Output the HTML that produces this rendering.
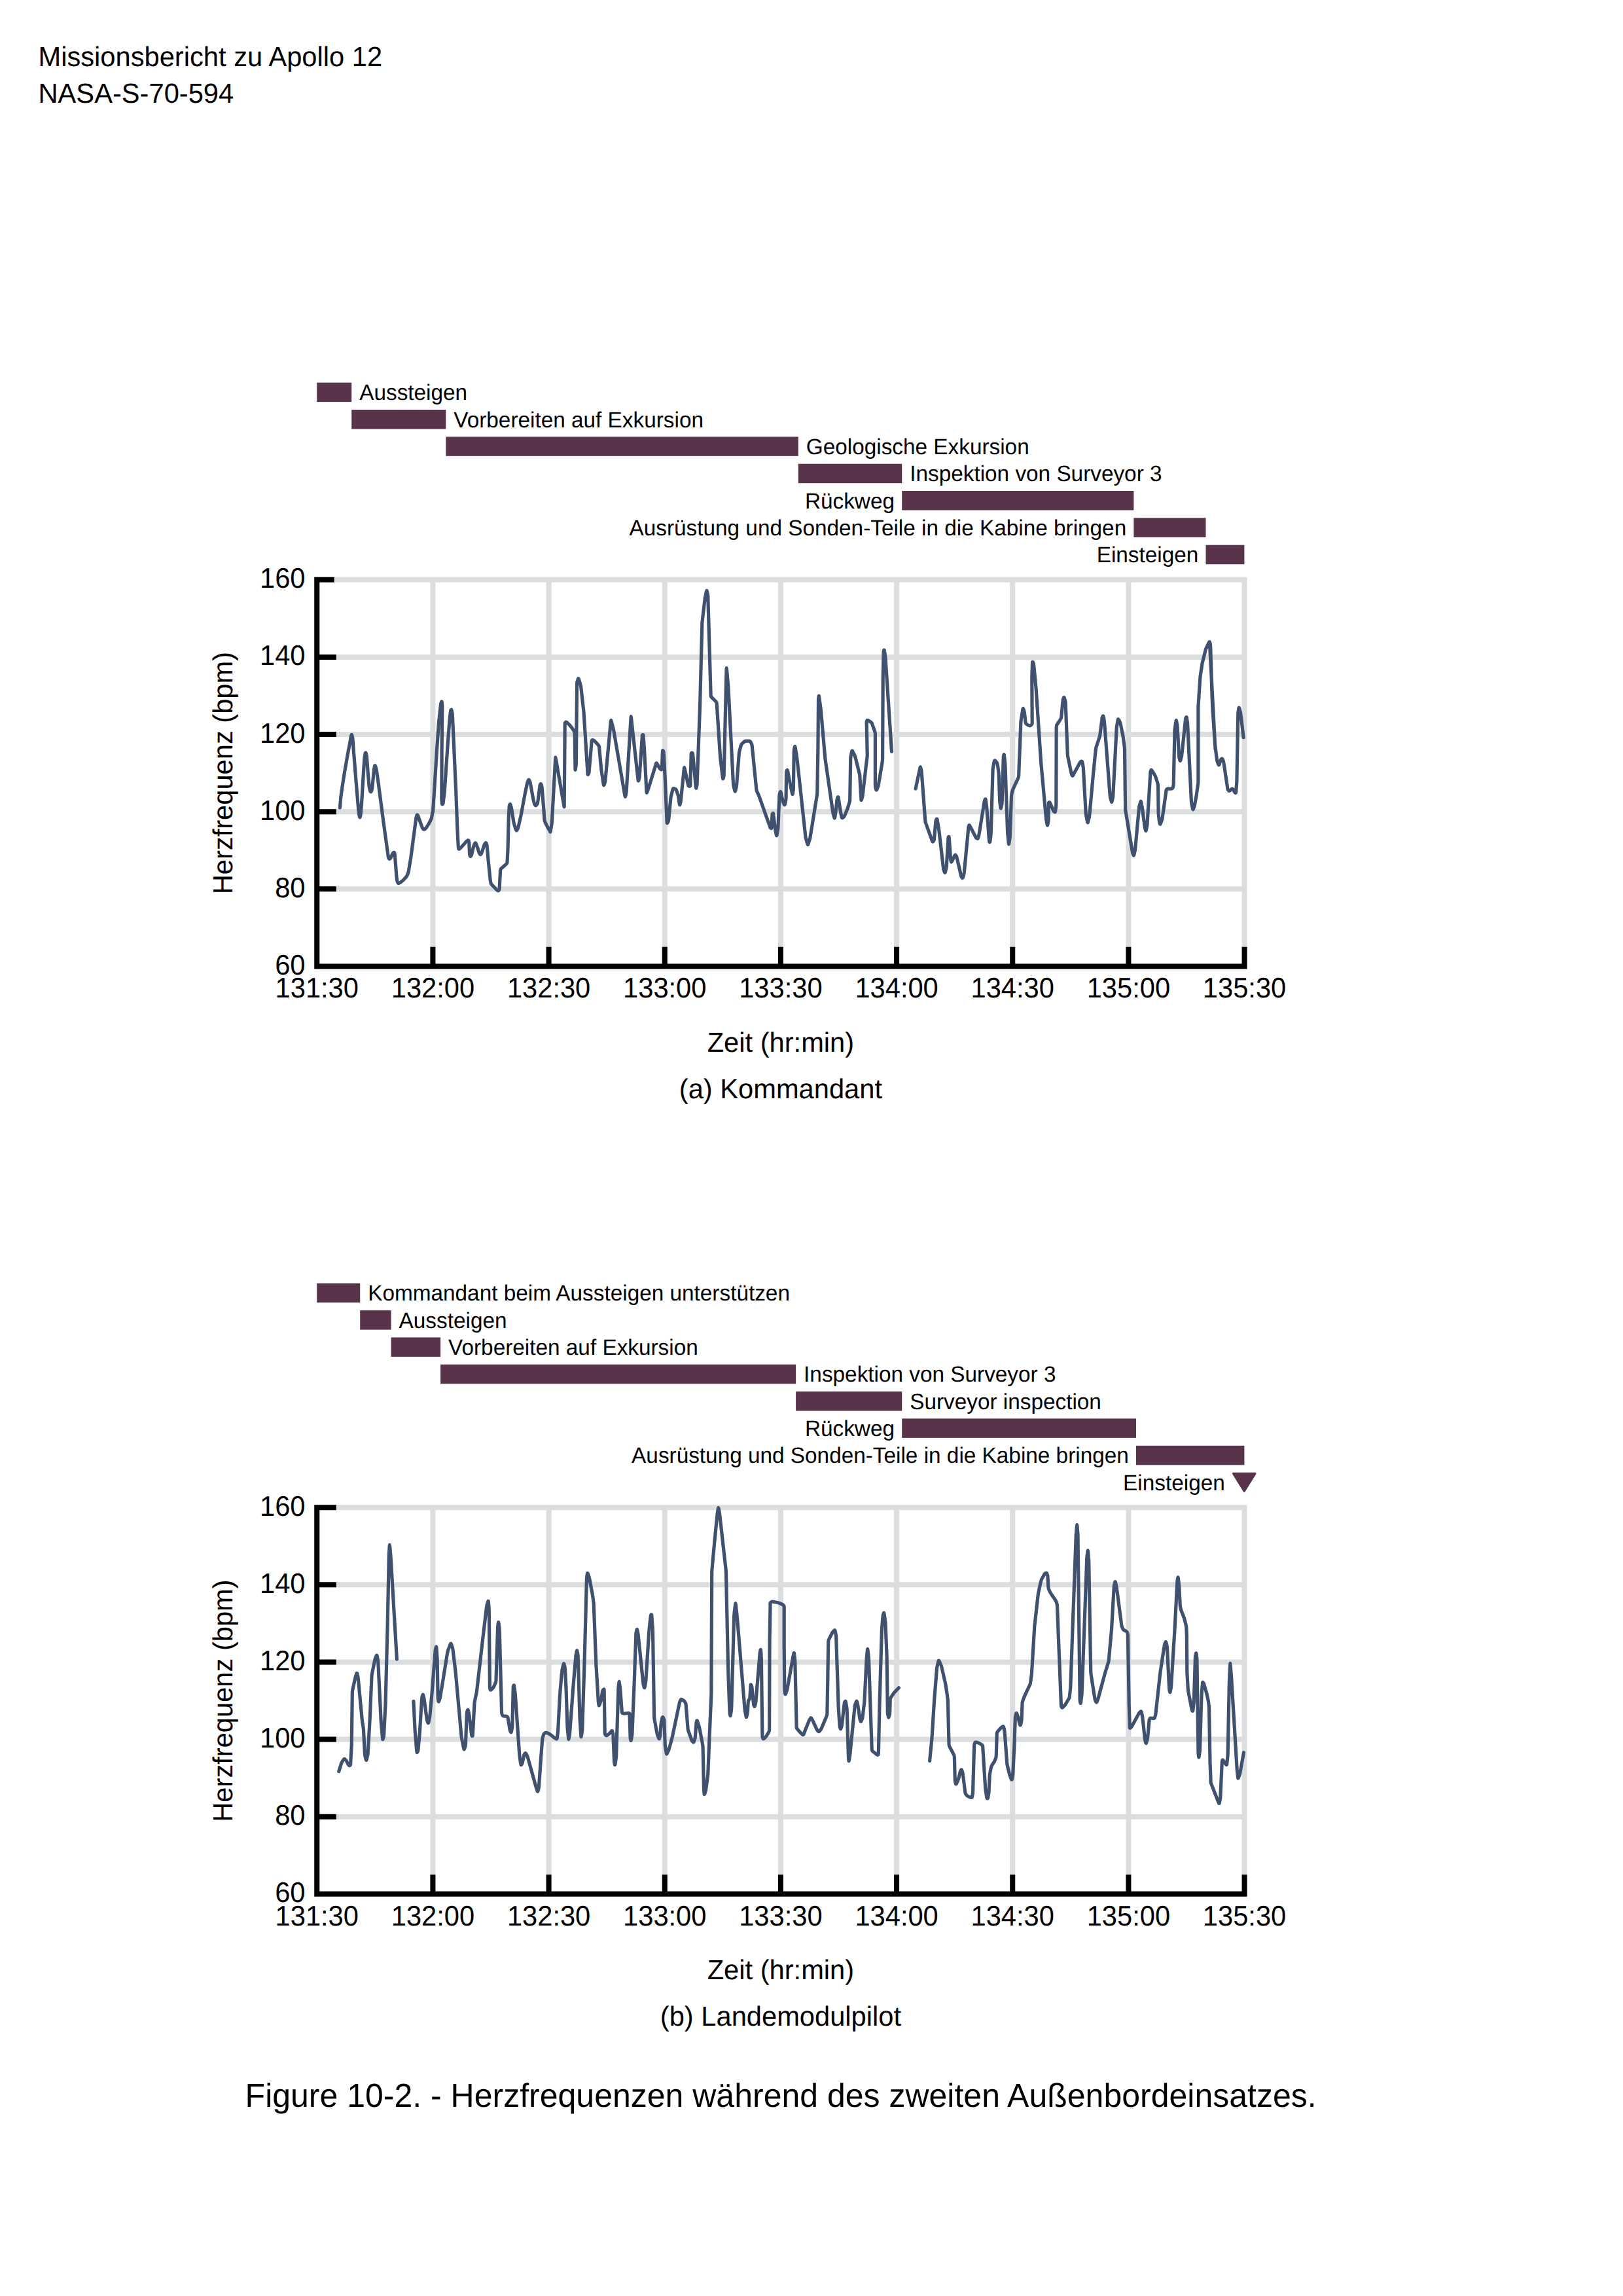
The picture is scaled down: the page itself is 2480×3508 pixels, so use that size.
<!DOCTYPE html>
<html lang="de"><head><meta charset="utf-8"><title>Missionsbericht zu Apollo 12</title>
<style>html,body{margin:0;padding:0;background:#fff}svg{display:block}text{font-family:"Liberation Sans",Arial,sans-serif;fill:#000;text-rendering:geometricPrecision}.t10{font-size:41.67px}.t8{font-size:33.33px}.t12{font-size:50px}</style></head><body>
<svg width="2480" height="3508" viewBox="0 0 2480 3508">
<rect width="2480" height="3508" fill="#fff"/>
<text class="t10" transform="translate(58.50,101.00) scale(1,1.015)">Missionsbericht zu Apollo 12</text>
<text class="t10" transform="translate(58.50,156.70) scale(1,1.015)">NASA-S-70-594</text>
<g>
<path d="M484.25,885.83H1901.57M484.25,1003.94H1901.57M484.25,1122.05H1901.57M484.25,1240.16H1901.57M484.25,1358.27H1901.57M484.25,1476.38H1901.57M484.25,885.83V1476.38M661.42,885.83V1476.38M838.58,885.83V1476.38M1015.75,885.83V1476.38M1192.91,885.83V1476.38M1370.08,885.83V1476.38M1547.24,885.83V1476.38M1724.41,885.83V1476.38M1901.57,885.83V1476.38" stroke="#dcddde" stroke-width="8.0" stroke-linecap="square" fill="none"/>
<path d="M519.4,1234.1L520.3,1223.4Q520.5,1219.9 521.0,1216.5L522.5,1205.8Q522.9,1202.3 523.5,1198.9L525.9,1183.4Q526.4,1180.0 527.1,1176.5L530.0,1159.9Q530.6,1156.4 531.2,1153.0L534.6,1135.2Q535.3,1131.8 535.8,1128.3L535.9,1127.6Q536.4,1123.5 537.0,1123.2L537.0,1123.2Q537.6,1121.5 538.2,1124.7L538.2,1124.7Q538.9,1126.8 539.1,1130.5L540.5,1149.4Q540.8,1152.9 541.1,1156.4L543.8,1190.6Q544.1,1194.1 544.4,1197.6L547.3,1231.7Q547.6,1235.2 548.0,1238.7L548.4,1242.3Q548.8,1246.2 549.4,1247.6L549.4,1247.6Q550.0,1250.4 550.6,1247.0L550.6,1247.0Q551.2,1244.9 551.4,1241.2L552.3,1230.5Q552.6,1227.0 552.8,1223.5L555.1,1185.8Q555.3,1182.3 555.5,1178.8L556.8,1159.9Q557.0,1156.3 557.6,1153.5L557.6,1153.5Q558.2,1149.9 558.7,1150.3L558.7,1150.3Q559.1,1149.2 559.7,1152.6L559.7,1152.6Q560.4,1155.1 560.6,1158.8L562.1,1178.8Q562.3,1182.3 562.7,1185.8L564.0,1200.0Q564.2,1203.6 565.1,1206.4L565.1,1206.4Q565.9,1210.0 566.4,1209.7L566.4,1209.7Q567.0,1210.5 567.8,1207.9L567.8,1207.9Q568.7,1206.2 568.9,1202.4L569.6,1195.2Q570.0,1191.7 570.3,1188.2L571.1,1178.7Q571.3,1175.1 572.0,1172.6L572.0,1172.6Q572.6,1169.3 573.0,1169.9L573.0,1169.9Q573.4,1168.9 574.4,1173.1L574.4,1173.1Q575.4,1176.4 575.8,1179.9L578.3,1197.7Q578.8,1201.1 579.2,1204.6L584.8,1247.1Q585.3,1250.5 585.7,1254.0L593.0,1307.0Q593.4,1311.1 594.2,1311.6L594.2,1311.6Q594.9,1313.0 595.7,1312.1L595.7,1312.1Q596.3,1312.4 597.9,1308.5L597.9,1308.4Q599.5,1304.7 600.3,1303.9L600.3,1303.9Q601.2,1302.1 601.9,1302.6L601.9,1302.6Q602.8,1302.2 603.1,1304.9L603.1,1304.9Q603.5,1306.6 603.7,1310.5L605.6,1335.2Q605.8,1338.7 606.3,1342.2L606.5,1343.5Q606.9,1347.5 607.8,1348.2L607.8,1348.2Q608.5,1349.9 609.5,1349.4L609.5,1349.4Q610.1,1349.8 613.2,1347.2L613.2,1347.2Q615.9,1345.3 618.2,1342.6L619.4,1341.3Q622.0,1338.8 622.9,1335.8L622.9,1335.8Q624.2,1333.0 624.6,1329.4L627.0,1315.1Q627.6,1311.7 628.1,1308.2L631.8,1279.9Q632.3,1276.4 632.8,1272.9L635.4,1252.8Q635.8,1249.0 636.4,1247.3L636.4,1247.3Q637.0,1244.7 637.6,1245.2L637.6,1245.2Q638.2,1244.9 638.8,1246.7L638.8,1246.7Q639.2,1247.7 640.5,1251.5L644.1,1261.3Q645.3,1265.2 646.1,1265.8L646.1,1265.8Q647.0,1267.3 647.9,1267.1L647.9,1267.1Q648.7,1267.5 649.9,1266.2L649.9,1266.2Q651.0,1265.7 652.9,1262.2L654.0,1260.6Q655.9,1257.6 657.4,1254.4L658.0,1253.1Q659.9,1250.0 660.0,1246.5L660.3,1244.6Q660.8,1240.2 661.1,1241.1L661.1,1241.1Q661.5,1242.0 661.7,1237.7L663.4,1211.6Q663.6,1208.1 663.8,1204.6L667.0,1154.1Q667.2,1150.6 667.4,1147.1L670.5,1103.8Q670.7,1100.3 671.2,1096.8L673.3,1077.9Q673.6,1074.0 674.4,1072.9L674.4,1072.9Q675.2,1070.0 675.4,1074.8L675.5,1075.3Q675.9,1078.7 675.8,1082.2L675.1,1147.1Q675.1,1150.6 675.1,1154.1L674.8,1219.0Q674.7,1222.5 675.2,1225.7L675.2,1225.7Q675.4,1229.8 676.2,1228.6L676.2,1228.6Q677.0,1229.0 677.4,1224.7L679.0,1211.6Q679.5,1208.1 679.6,1204.6L683.5,1146.9Q683.7,1143.4 684.0,1139.9L687.0,1099.5Q687.3,1096.0 687.8,1092.5L688.3,1088.7Q688.7,1084.5 689.2,1084.6L689.2,1084.6Q689.7,1083.1 690.5,1087.2L690.5,1087.2Q691.3,1090.1 691.4,1093.7L693.6,1139.9Q693.8,1143.4 693.9,1146.9L696.5,1204.6Q696.7,1208.1 696.8,1211.6L698.7,1262.1Q698.8,1265.6 699.0,1269.1L700.1,1290.8Q700.2,1294.8 700.6,1295.9L700.6,1295.9Q700.8,1298.0 702.0,1297.0L702.0,1297.0Q702.8,1297.0 705.4,1293.9L710.9,1287.6Q713.4,1284.5 714.5,1284.3L714.5,1284.3Q716.0,1282.9 716.3,1285.4L716.3,1285.4Q716.9,1286.7 716.9,1290.6L717.4,1302.3Q717.4,1306.4 718.1,1307.3L718.1,1307.3Q718.6,1309.2 719.5,1308.0L719.5,1308.0Q720.4,1307.9 721.1,1303.9L722.5,1297.8Q723.2,1294.2 724.3,1291.5L724.3,1291.5Q725.5,1288.0 726.1,1288.2L726.1,1288.2Q726.7,1287.2 727.9,1290.4L727.9,1290.4Q729.0,1292.7 730.0,1296.2L731.5,1301.1Q732.6,1305.1 733.5,1305.1L733.5,1305.1Q734.5,1306.4 735.3,1304.4L735.3,1304.4Q736.1,1303.4 737.2,1299.6L739.4,1292.6Q740.5,1288.7 741.6,1288.4L741.6,1288.4Q742.7,1286.7 743.4,1289.5L743.4,1289.5Q744.2,1291.1 744.4,1294.9L745.9,1312.4Q746.2,1315.9 746.6,1319.4L748.8,1341.2Q749.1,1344.8 749.7,1347.5L749.7,1347.5Q749.8,1350.5 752.7,1352.9L756.8,1357.2Q759.5,1360.2 760.3,1360.5L760.3,1360.5Q761.4,1361.6 762.3,1360.1L762.3,1360.1Q763.4,1359.6 763.3,1355.5L763.6,1348.1Q763.8,1344.6 764.0,1341.1L764.5,1331.6Q764.0,1327.8 767.3,1325.8L770.9,1322.5Q774.0,1319.8 774.3,1319.5L774.3,1319.5Q775.1,1319.5 775.1,1315.3L776.0,1297.8Q776.2,1294.3 776.2,1290.8L777.1,1254.7Q777.1,1251.2 777.3,1247.7L778.0,1234.6Q778.0,1230.6 778.9,1229.7L778.9,1229.7Q779.5,1227.1 780.5,1231.1L780.5,1231.1Q781.5,1233.8 782.0,1237.4L784.5,1253.5Q784.9,1257.0 786.0,1260.3L787.0,1263.7Q788.0,1267.6 788.6,1268.1L788.6,1268.1Q789.3,1269.9 790.4,1267.4L790.4,1267.4Q791.6,1266.0 792.3,1262.2L795.0,1250.3Q795.9,1246.9 796.5,1243.5L801.6,1215.9Q802.3,1212.4 803.0,1209.0L805.2,1198.6Q805.8,1194.8 807.0,1193.0L807.0,1193.0Q808.0,1189.8 809.1,1193.0L809.1,1193.0Q810.3,1194.8 810.8,1198.6L813.9,1216.2Q814.5,1219.6 815.3,1223.0L815.9,1225.5Q816.6,1229.5 817.7,1230.0L817.7,1230.0Q818.8,1231.7 820.0,1229.7L820.0,1229.7Q821.4,1228.7 821.8,1224.8L822.6,1218.8Q823.2,1215.3 823.5,1211.8L824.6,1203.0Q824.9,1198.9 825.7,1198.4L825.7,1198.4Q826.4,1196.4 827.3,1199.8L827.3,1199.8Q828.3,1202.1 828.4,1205.8L830.0,1226.2Q830.3,1229.7 830.6,1233.2L831.8,1250.6Q831.7,1254.2 833.5,1257.3L834.6,1259.5Q836.0,1262.8 837.9,1265.7L838.1,1266.2Q840.3,1269.6 840.5,1270.3L840.5,1270.3Q841.1,1272.7 841.6,1268.0L842.8,1260.5Q843.4,1257.1 843.5,1253.6L848.6,1159.6Q848.7,1154.4 849.4,1159.6L854.9,1191.5Q855.5,1195.0 856.1,1198.4L861.6,1230.3Q862.3,1235.5 862.2,1230.3L863.2,1107.5Q863.0,1103.3 864.4,1103.5L864.4,1103.5Q865.1,1102.2 867.9,1105.4L869.7,1107.1Q872.3,1109.5 874.1,1112.5L876.2,1115.5Q878.6,1118.3 878.2,1121.9L878.9,1173.7Q878.9,1179.0 879.5,1173.8L879.8,1171.8Q880.5,1168.4 880.4,1164.9L881.6,1045.4Q881.4,1041.8 882.8,1038.9L882.8,1038.9Q883.9,1034.3 884.9,1039.3L886.7,1045.2Q887.8,1048.5 888.0,1052.1L891.7,1085.0Q892.1,1088.5 892.3,1092.0L897.9,1180.4Q897.9,1185.0 899.0,1182.8L899.0,1182.8Q900.0,1182.3 900.2,1178.2L904.0,1134.1Q903.9,1129.7 906.0,1130.9L906.0,1130.9Q907.4,1130.5 910.0,1133.7L913.0,1136.9Q915.9,1139.3 915.7,1143.0L918.4,1171.5Q918.7,1175.0 919.2,1178.5L922.0,1197.1Q922.3,1202.1 923.6,1197.7L923.6,1197.7Q924.9,1195.2 925.0,1191.5L933.2,1103.1Q933.4,1097.9 934.4,1103.0L936.7,1111.7Q937.6,1115.1 938.2,1118.6L954.7,1214.8Q955.3,1220.0 956.1,1214.9L956.3,1213.9Q957.2,1210.5 957.3,1207.0L964.0,1097.1Q964.1,1091.9 964.6,1097.1L967.1,1120.5Q967.5,1124.0 967.9,1127.5L974.9,1190.4Q975.1,1195.4 976.2,1191.1L976.2,1191.1Q977.2,1188.5 977.3,1184.8L981.2,1126.4Q981.3,1122.0 982.3,1122.9L982.3,1122.9Q983.2,1122.0 983.3,1126.4L984.4,1142.7Q984.6,1146.2 984.8,1149.7L987.9,1208.6Q987.9,1213.7 989.2,1209.1L989.2,1209.1Q990.4,1206.2 991.4,1202.7L1002.0,1168.4Q1002.8,1163.4 1004.7,1168.1L1006.8,1171.9Q1008.6,1175.6 1009.9,1175.6L1009.9,1175.6Q1011.5,1177.1 1011.4,1172.6L1012.4,1149.7Q1012.4,1145.0 1013.3,1147.3L1013.3,1147.3Q1014.2,1147.8 1014.3,1151.9L1016.1,1187.0Q1016.3,1190.5 1016.5,1194.0L1019.0,1254.7Q1018.9,1259.5 1020.3,1256.5L1020.3,1256.5Q1021.6,1255.3 1021.8,1251.4L1024.8,1220.6Q1025.0,1217.1 1026.1,1213.8L1027.6,1207.7Q1028.2,1203.2 1030.7,1205.2L1030.7,1205.2Q1033.2,1205.5 1034.2,1209.3L1035.0,1211.7Q1036.4,1214.9 1036.8,1218.4L1038.0,1227.0Q1038.4,1231.9 1039.3,1228.2L1039.3,1228.2Q1040.1,1226.3 1040.4,1222.5L1045.2,1175.2Q1045.5,1170.0 1046.3,1175.1L1051.1,1197.1Q1051.6,1201.2 1053.2,1201.1L1053.2,1201.1Q1055.0,1202.6 1054.8,1198.1L1056.1,1154.1Q1056.0,1149.7 1057.3,1150.6L1057.3,1150.6Q1058.6,1149.7 1058.8,1154.1L1063.2,1201.5Q1063.4,1206.5 1064.3,1202.2L1064.3,1202.2Q1065.3,1199.6 1065.2,1195.9L1069.4,1083.1Q1069.5,1079.6 1069.6,1076.1L1072.8,954.5Q1072.8,951.0 1073.3,947.5L1076.9,916.7Q1077.2,913.3 1078.1,909.9L1079.2,904.9Q1080.0,899.8 1080.8,904.9L1080.9,905.4Q1081.9,908.8 1081.8,912.3L1086.1,1060.6Q1085.6,1064.4 1088.6,1066.6L1092.6,1070.5Q1095.6,1072.7 1095.3,1076.5L1100.4,1153.8Q1100.5,1157.3 1101.0,1160.7L1104.2,1187.1Q1104.5,1192.0 1105.4,1188.3L1105.4,1188.3Q1106.3,1186.4 1106.2,1182.6L1110.0,1023.2Q1110.1,1018.0 1110.5,1023.2L1112.5,1045.1Q1112.8,1048.6 1113.0,1052.1L1120.4,1195.9Q1120.4,1199.4 1121.4,1202.8L1122.4,1206.7Q1123.2,1211.8 1124.1,1206.7L1124.5,1205.0Q1125.6,1201.7 1125.7,1198.1L1129.2,1153.0Q1129.3,1149.5 1130.3,1146.1L1131.8,1140.7Q1132.3,1137.0 1135.3,1134.9L1135.7,1134.6Q1138.1,1131.6 1141.8,1132.2L1142.6,1132.2Q1146.6,1131.6 1147.5,1134.8L1147.5,1134.8Q1149.2,1137.1 1149.3,1140.8L1155.7,1204.8Q1155.7,1208.4 1157.6,1211.4L1157.8,1211.8Q1159.5,1214.9 1160.5,1218.2L1175.9,1261.5Q1177.5,1265.8 1176.9,1264.3L1176.9,1264.3Q1176.3,1263.3 1177.7,1264.8L1177.7,1264.8Q1179.1,1267.1 1179.0,1262.5L1179.8,1247.3Q1179.8,1243.1 1180.7,1242.9L1180.7,1242.9Q1181.6,1240.9 1181.9,1245.5L1184.0,1262.5Q1184.3,1266.0 1185.0,1269.4L1186.0,1274.3Q1186.6,1279.4 1187.3,1274.3L1188.2,1269.4Q1189.0,1266.0 1189.0,1262.5L1190.9,1216.2Q1190.9,1212.3 1191.9,1210.8L1191.9,1210.8Q1192.9,1207.6 1193.6,1212.4L1195.8,1222.6Q1196.5,1226.3 1197.9,1228.2L1197.9,1228.2Q1199.4,1231.9 1199.9,1227.0L1200.3,1225.0Q1201.2,1221.6 1201.1,1218.1L1201.6,1181.8Q1201.5,1177.7 1202.5,1177.2L1202.5,1177.2Q1203.3,1175.0 1203.9,1179.6L1207.0,1196.0Q1207.7,1199.4 1208.4,1202.8L1210.3,1211.1Q1211.1,1216.2 1211.6,1211.0L1211.8,1209.5Q1212.5,1206.1 1212.4,1202.6L1213.2,1149.7Q1213.1,1146.1 1214.0,1142.8L1214.0,1142.8Q1214.8,1137.8 1215.3,1143.0L1217.1,1153.8Q1217.7,1157.3 1218.1,1160.7L1230.6,1275.8Q1230.8,1279.3 1231.9,1282.6L1233.4,1288.1Q1234.3,1293.1 1235.4,1288.1L1236.5,1284.8Q1237.8,1281.5 1238.2,1278.0L1248.2,1216.2Q1248.8,1212.7 1248.8,1209.2L1249.8,1149.7Q1249.8,1146.2 1249.9,1142.7L1250.5,1072.0Q1250.4,1068.4 1250.9,1065.4L1250.9,1065.4Q1251.4,1060.7 1251.8,1065.8L1253.8,1080.6Q1254.3,1084.1 1254.6,1087.6L1260.6,1156.0Q1260.9,1159.5 1261.4,1162.9L1272.6,1240.3Q1273.0,1243.8 1274.2,1247.1L1274.3,1247.5Q1275.5,1252.6 1275.9,1247.4L1276.6,1242.8Q1277.2,1239.3 1277.5,1235.9L1278.9,1222.9Q1279.2,1218.8 1280.1,1218.3L1280.1,1218.3Q1281.0,1216.0 1281.4,1220.6L1283.7,1235.9Q1284.2,1239.3 1284.9,1242.8L1285.7,1246.6Q1286.2,1251.1 1288.1,1249.1L1288.1,1249.1Q1289.8,1248.8 1291.1,1245.0L1294.0,1238.1Q1295.4,1234.9 1296.3,1231.5L1297.6,1227.2Q1298.9,1223.8 1298.7,1220.3L1299.7,1160.8Q1299.6,1157.2 1300.4,1153.8L1301.3,1149.6Q1301.7,1144.5 1303.5,1149.3L1304.8,1151.9Q1306.6,1155.0 1307.3,1158.4L1312.9,1180.5Q1313.9,1183.9 1313.9,1187.4L1315.7,1219.9Q1315.7,1225.0 1316.9,1220.3L1316.9,1220.3Q1318.1,1217.2 1318.3,1213.7L1323.7,1167.4Q1324.1,1163.9 1324.6,1160.4L1324.8,1158.5Q1325.4,1155.1 1325.2,1151.5L1324.2,1105.3Q1323.9,1101.1 1325.0,1101.0L1325.0,1101.0Q1325.4,1099.6 1328.9,1102.1L1328.9,1102.2Q1332.4,1103.7 1333.1,1107.3L1336.3,1116.3Q1337.7,1119.5 1337.4,1123.1L1337.4,1198.1Q1337.2,1201.7 1338.3,1204.7L1338.3,1204.7Q1339.1,1209.4 1340.6,1204.7L1340.6,1204.7Q1342.1,1201.7 1342.5,1198.2L1348.0,1165.2Q1348.7,1161.7 1348.6,1158.2L1349.2,1038.8Q1349.2,1035.3 1349.3,1031.8L1350.0,998.8Q1350.0,994.8 1350.6,994.0L1350.6,994.0Q1351.2,991.5 1351.7,996.1L1352.4,1000.8Q1353.1,1004.2 1353.2,1007.7L1362.5,1148.4" stroke="#40516f" stroke-width="5.2" stroke-linecap="round" stroke-linejoin="round" fill="none"/>
<path d="M1399.1,1205.0L1405.5,1174.7Q1406.2,1169.6 1407.1,1174.2L1407.1,1174.2Q1408.1,1177.1 1408.3,1180.7L1413.7,1252.5Q1413.7,1256.0 1415.2,1259.3L1423.9,1283.3Q1425.1,1287.8 1426.2,1285.1L1426.2,1285.1Q1427.5,1284.2 1427.6,1280.2L1429.8,1256.1Q1430.0,1252.0 1431.1,1251.8L1431.1,1251.8Q1432.0,1249.8 1432.5,1254.3L1434.5,1266.9Q1435.1,1270.4 1435.4,1273.9L1441.3,1324.6Q1441.5,1328.2 1442.8,1331.2L1442.8,1331.2Q1444.0,1335.9 1444.8,1330.9L1445.2,1329.2Q1446.3,1325.9 1446.4,1322.3L1448.8,1282.8Q1448.9,1278.5 1449.6,1278.7L1449.6,1278.7Q1450.2,1277.1 1450.4,1281.6L1452.5,1311.3Q1452.7,1315.3 1453.3,1316.1L1453.3,1316.1Q1453.7,1318.5 1455.4,1314.3L1457.9,1309.0Q1459.5,1304.8 1460.6,1307.0L1460.6,1307.0Q1461.7,1307.5 1462.4,1311.5L1468.0,1335.7Q1468.7,1339.6 1469.9,1340.6L1469.9,1340.6Q1471.0,1343.2 1472.0,1338.7L1472.2,1338.1Q1473.4,1334.7 1473.5,1331.2L1479.7,1266.1Q1480.0,1262.0 1480.6,1261.5L1480.6,1261.5Q1480.9,1259.4 1482.8,1263.5L1490.0,1277.3Q1491.7,1281.0 1492.9,1280.9L1492.9,1280.9Q1494.4,1282.4 1495.2,1278.2L1495.2,1278.2Q1496.1,1274.9 1496.6,1271.4L1503.9,1226.2Q1504.4,1222.1 1505.2,1221.6L1505.2,1221.6Q1506.1,1219.3 1506.5,1224.0L1507.4,1231.4Q1507.8,1234.9 1508.1,1238.4L1511.3,1282.4Q1511.5,1286.6 1512.1,1286.5L1512.1,1286.5Q1512.7,1288.0 1513.1,1283.6L1513.8,1278.3Q1514.3,1274.8 1514.3,1271.3L1517.0,1178.5Q1517.0,1175.0 1517.7,1171.6L1518.7,1166.3Q1519.3,1162.1 1519.9,1162.3L1519.9,1162.3Q1520.1,1161.0 1522.2,1163.9L1522.2,1163.9Q1524.3,1165.8 1524.5,1169.6L1525.7,1178.2Q1526.3,1181.7 1526.3,1185.2L1527.6,1222.5Q1527.6,1226.0 1528.3,1229.5L1528.7,1232.5Q1529.2,1237.7 1530.1,1232.6L1530.3,1231.7Q1531.2,1228.3 1531.2,1224.7L1533.2,1158.5Q1533.2,1154.5 1533.8,1153.7L1533.8,1153.7Q1534.4,1151.2 1534.7,1155.9L1535.6,1164.9Q1536.0,1168.4 1536.1,1171.9L1539.4,1266.9Q1539.4,1270.4 1539.8,1273.9L1541.1,1287.3Q1541.4,1292.5 1542.0,1287.3L1542.7,1282.7Q1543.4,1279.3 1543.4,1275.8L1545.4,1218.4Q1545.3,1214.9 1546.3,1211.5L1546.8,1209.5Q1547.5,1206.0 1549.2,1202.9L1555.1,1190.4Q1556.9,1187.3 1556.7,1183.7L1559.8,1105.3Q1559.8,1101.8 1560.5,1098.4L1562.7,1084.9Q1563.1,1079.7 1564.3,1084.7L1564.4,1085.2Q1565.6,1088.5 1565.8,1092.0L1566.8,1101.7Q1566.8,1105.6 1569.1,1106.6L1569.1,1106.6Q1571.0,1108.3 1572.6,1108.5L1572.6,1108.5Q1574.4,1109.4 1575.7,1107.6L1575.7,1107.6Q1577.6,1106.8 1577.2,1102.7L1576.8,1038.8Q1576.7,1035.3 1576.9,1031.8L1577.5,1014.4Q1577.4,1009.7 1578.5,1012.0L1578.5,1012.0Q1579.5,1012.5 1579.7,1016.6L1582.9,1049.5Q1583.2,1053.0 1583.4,1056.5L1590.7,1164.9Q1590.9,1168.4 1591.3,1171.8L1598.4,1249.2Q1598.6,1252.7 1599.4,1256.1L1599.8,1258.5Q1600.5,1263.7 1601.2,1258.5L1601.3,1258.3Q1602.2,1254.9 1602.1,1251.4L1602.4,1229.5Q1602.3,1225.2 1603.4,1226.0L1603.4,1226.0Q1604.1,1225.2 1605.6,1229.3L1608.5,1236.1Q1609.8,1239.9 1611.1,1240.2L1611.1,1240.2Q1612.7,1242.2 1612.9,1237.6L1613.4,1233.9Q1613.9,1230.5 1613.8,1227.0L1614.2,1112.0Q1613.8,1108.3 1616.2,1105.5L1619.6,1100.3Q1622.0,1097.5 1621.9,1093.9L1623.9,1072.0Q1624.1,1068.1 1625.1,1066.7L1625.1,1066.7Q1626.0,1063.5 1626.9,1068.1L1627.3,1069.6Q1628.4,1072.9 1628.3,1076.5L1631.2,1150.4Q1631.2,1154.0 1632.0,1157.4L1636.8,1180.5Q1637.5,1184.5 1638.3,1184.8L1638.3,1184.8Q1638.9,1186.6 1640.7,1182.6L1649.2,1167.0Q1650.9,1163.3 1652.2,1163.4L1652.2,1163.4Q1653.7,1161.8 1654.1,1166.3L1654.7,1169.3Q1655.4,1172.8 1655.5,1176.3L1659.1,1240.3Q1659.1,1243.8 1659.9,1247.2L1661.3,1254.3Q1661.9,1259.4 1662.9,1254.4L1663.6,1251.6Q1664.7,1248.2 1664.9,1244.7L1670.5,1182.9Q1670.8,1179.4 1671.2,1176.0L1674.2,1146.3Q1674.4,1142.8 1675.7,1139.5L1679.7,1127.3Q1680.9,1124.0 1681.2,1120.5L1683.7,1099.7Q1684.0,1095.8 1685.0,1094.8L1685.0,1094.8Q1685.9,1092.2 1686.5,1096.8L1686.8,1098.4Q1687.5,1101.8 1687.7,1105.3L1696.0,1213.7Q1696.1,1217.2 1697.2,1220.5L1697.9,1223.1Q1698.8,1228.2 1699.5,1223.0L1700.0,1220.6Q1700.9,1217.2 1700.9,1213.7L1706.1,1114.2Q1706.2,1110.7 1706.9,1107.2L1707.9,1101.5Q1708.2,1096.4 1710.2,1101.0L1710.2,1101.0Q1712.1,1103.9 1712.5,1107.5L1715.6,1122.8Q1716.3,1126.2 1716.7,1129.7L1718.1,1140.5Q1718.6,1143.9 1718.5,1147.5L1719.6,1233.6Q1719.5,1237.1 1720.2,1240.6L1723.5,1260.3Q1724.0,1263.7 1724.6,1267.2L1730.1,1300.2Q1730.6,1304.0 1731.6,1305.7L1731.6,1305.7Q1732.5,1309.0 1733.3,1304.2L1733.6,1302.6Q1734.6,1299.2 1734.8,1295.7L1740.3,1236.2Q1740.5,1232.7 1741.6,1229.3L1742.4,1226.7Q1743.4,1221.7 1744.0,1226.8L1744.4,1229.2Q1745.1,1232.7 1745.6,1236.1L1749.1,1262.5Q1749.5,1266.3 1750.3,1267.9L1750.3,1267.9Q1751.1,1271.3 1751.8,1266.5L1752.1,1264.9Q1753.0,1261.5 1753.1,1258.0L1757.8,1181.8Q1757.8,1177.7 1758.7,1177.2L1758.7,1177.2Q1759.2,1175.1 1761.4,1179.1L1763.2,1182.0Q1765.3,1184.9 1766.2,1188.3L1768.4,1195.0Q1769.8,1198.3 1769.6,1201.8L1770.1,1240.3Q1770.1,1243.8 1770.6,1247.2L1771.3,1253.6Q1771.7,1257.6 1772.3,1258.4L1772.3,1258.4Q1772.6,1260.9 1774.1,1256.5L1774.4,1255.9Q1775.9,1252.7 1776.2,1249.2L1781.9,1208.9Q1781.6,1204.6 1785.9,1205.2L1788.2,1205.1Q1792.4,1205.6 1792.5,1202.2L1792.5,1202.2Q1793.4,1199.6 1793.3,1195.9L1794.9,1118.6Q1794.9,1115.1 1795.5,1111.7L1796.7,1103.1Q1797.2,1097.9 1797.9,1103.0L1798.3,1105.0Q1799.1,1108.5 1799.2,1112.0L1801.5,1153.8Q1801.5,1157.4 1802.6,1160.3L1802.6,1160.3Q1803.4,1164.8 1804.4,1159.9L1804.7,1158.4Q1805.8,1155.1 1806.0,1151.6L1811.3,1100.9Q1811.5,1096.8 1812.4,1096.3L1812.4,1096.3Q1813.3,1094.0 1813.7,1098.6L1814.0,1100.6Q1814.6,1104.0 1814.7,1107.5L1820.3,1222.5Q1820.4,1226.0 1821.2,1229.5L1822.1,1234.1Q1822.6,1239.0 1823.8,1235.1L1823.8,1235.1Q1825.1,1232.9 1825.6,1229.2L1827.6,1218.4Q1828.3,1214.9 1828.7,1211.5L1830.5,1198.4Q1831.1,1195.0 1830.9,1191.5L1830.9,1083.1Q1830.9,1079.6 1831.2,1076.1L1833.6,1038.8Q1833.8,1035.3 1834.3,1031.8L1836.6,1016.5Q1837.1,1013.1 1838.0,1009.7L1841.8,994.3Q1842.5,990.8 1844.3,987.8L1846.7,982.9Q1848.5,978.2 1848.8,983.1L1848.8,983.1Q1849.5,986.4 1849.5,990.0L1852.6,1076.1Q1852.7,1079.6 1852.9,1083.1L1856.9,1142.7Q1857.2,1147.9 1856.9,1142.7L1848.4,983.7Q1848.0,978.8 1848.9,982.4L1848.9,982.4Q1849.7,984.2 1849.7,988.0L1852.0,1061.6Q1852.1,1065.1 1852.4,1068.6L1856.3,1133.5Q1856.5,1137.0 1856.9,1140.4L1859.3,1159.6Q1859.5,1163.2 1861.2,1166.3L1861.2,1166.4Q1862.7,1171.3 1863.6,1166.3L1864.2,1164.3Q1865.2,1160.4 1866.3,1159.8L1866.3,1159.8Q1867.4,1157.9 1868.5,1160.9L1868.5,1160.9Q1869.7,1162.8 1870.1,1166.6L1875.6,1203.2Q1876.0,1207.2 1877.2,1207.7L1877.2,1207.7Q1878.0,1209.6 1880.7,1206.7L1880.7,1206.7Q1883.2,1203.2 1884.9,1207.5L1885.2,1208.0Q1887.3,1211.7 1887.8,1211.2L1887.8,1211.2Q1888.6,1212.4 1888.8,1208.0L1889.5,1199.3Q1889.9,1195.8 1889.9,1192.3L1891.7,1092.6Q1891.7,1089.0 1892.3,1085.6L1892.6,1083.8Q1893.0,1078.6 1894.1,1083.7L1894.7,1085.7Q1895.9,1089.0 1896.1,1092.5L1900.1,1126.7" stroke="#40516f" stroke-width="5.2" stroke-linecap="round" stroke-linejoin="round" fill="none"/>
<path d="M510.65,885.83H484.25V1476.38H1901.57V1446.85M484.25,1003.94h29.53M484.25,1122.05h29.53M484.25,1240.16h29.53M484.25,1358.27h29.53M661.42,1476.38v-29.53M838.58,1476.38v-29.53M1015.75,1476.38v-29.53M1192.91,1476.38v-29.53M1370.08,1476.38v-29.53M1547.24,1476.38v-29.53M1724.41,1476.38v-29.53" stroke="#000" stroke-width="8.0" stroke-linecap="butt" stroke-linejoin="miter" fill="none"/>
<text class="t10" text-anchor="end" transform="translate(466.54,898.33) scale(1,1.038)">160</text>
<text class="t10" text-anchor="end" transform="translate(466.54,1016.44) scale(1,1.038)">140</text>
<text class="t10" text-anchor="end" transform="translate(466.54,1134.55) scale(1,1.038)">120</text>
<text class="t10" text-anchor="end" transform="translate(466.54,1252.66) scale(1,1.038)">100</text>
<text class="t10" text-anchor="end" transform="translate(466.54,1370.77) scale(1,1.038)">80</text>
<text class="t10" text-anchor="end" transform="translate(466.54,1488.88) scale(1,1.038)">60</text>
<text class="t10" text-anchor="middle" transform="translate(484.25,1524.08) scale(1,1.038)">131:30</text>
<text class="t10" text-anchor="middle" transform="translate(661.42,1524.08) scale(1,1.038)">132:00</text>
<text class="t10" text-anchor="middle" transform="translate(838.58,1524.08) scale(1,1.038)">132:30</text>
<text class="t10" text-anchor="middle" transform="translate(1015.75,1524.08) scale(1,1.038)">133:00</text>
<text class="t10" text-anchor="middle" transform="translate(1192.91,1524.08) scale(1,1.038)">133:30</text>
<text class="t10" text-anchor="middle" transform="translate(1370.08,1524.08) scale(1,1.038)">134:00</text>
<text class="t10" text-anchor="middle" transform="translate(1547.24,1524.08) scale(1,1.038)">134:30</text>
<text class="t10" text-anchor="middle" transform="translate(1724.41,1524.08) scale(1,1.038)">135:00</text>
<text class="t10" text-anchor="middle" transform="translate(1901.57,1524.08) scale(1,1.038)">135:30</text>
<text class="t10" text-anchor="middle" transform="translate(354.90,1181.10) rotate(-90) scale(1,1.015)">Herzfrequenz (bpm)</text>
<text class="t10" text-anchor="middle" transform="translate(1192.91,1606.98) scale(1,1.015)">Zeit (hr:min)</text>
<text class="t10" text-anchor="middle" transform="translate(1192.91,1677.78) scale(1,1.015)">(a) Kommandant</text>
<rect x="484.2" y="584.6" width="53.0" height="29.5" fill="#58334b"/>
<text class="t8" transform="translate(549.20,611.16) scale(1,1.015)">Aussteigen</text>
<rect x="537.2" y="626.0" width="144.1" height="29.5" fill="#58334b"/>
<text class="t8" transform="translate(693.30,652.50) scale(1,1.015)">Vorbereiten auf Exkursion</text>
<rect x="681.3" y="667.3" width="538.5" height="29.5" fill="#58334b"/>
<text class="t8" transform="translate(1231.80,693.84) scale(1,1.015)">Geologische Exkursion</text>
<rect x="1219.8" y="708.7" width="158.4" height="29.5" fill="#58334b"/>
<text class="t8" transform="translate(1390.20,735.18) scale(1,1.015)">Inspektion von Surveyor 3</text>
<rect x="1378.2" y="750.0" width="354.2" height="29.5" fill="#58334b"/>
<text class="t8" text-anchor="end" transform="translate(1367.00,776.51) scale(1,1.015)">Rückweg</text>
<rect x="1732.4" y="791.3" width="110.1" height="29.5" fill="#58334b"/>
<text class="t8" text-anchor="end" transform="translate(1721.20,817.85) scale(1,1.015)">Ausrüstung und Sonden-Teile in die Kabine bringen</text>
<rect x="1842.5" y="832.7" width="58.9" height="29.5" fill="#58334b"/>
<text class="t8" text-anchor="end" transform="translate(1831.30,859.19) scale(1,1.015)">Einsteigen</text>
</g>
<g>
<path d="M484.25,2303.25H1901.57M484.25,2421.36H1901.57M484.25,2539.47H1901.57M484.25,2657.58H1901.57M484.25,2775.69H1901.57M484.25,2893.80H1901.57M484.25,2303.25V2893.80M661.42,2303.25V2893.80M838.58,2303.25V2893.80M1015.75,2303.25V2893.80M1192.91,2303.25V2893.80M1370.08,2303.25V2893.80M1547.24,2303.25V2893.80M1724.41,2303.25V2893.80M1901.57,2303.25V2893.80" stroke="#dcddde" stroke-width="8.0" stroke-linecap="square" fill="none"/>
<path d="M517.7,2706.6L521.1,2695.9Q521.9,2692.4 524.0,2689.8L524.0,2689.8Q526.0,2686.1 527.4,2688.2L527.4,2688.2Q528.8,2688.8 530.4,2692.4L531.6,2694.6Q533.4,2698.5 534.3,2697.4L534.3,2697.4Q535.7,2697.8 535.7,2693.5L537.0,2670.6Q537.3,2667.1 537.3,2663.6L538.3,2587.4Q538.2,2583.9 539.1,2580.5L542.5,2565.1Q543.1,2561.6 544.3,2558.6L544.3,2558.6Q545.5,2553.9 546.3,2558.9L546.4,2559.4Q547.3,2562.8 547.5,2566.3L552.9,2623.7Q553.1,2627.2 553.7,2630.6L554.9,2638.1Q555.5,2641.6 555.6,2645.1L557.4,2679.1Q557.4,2682.6 558.6,2686.0L558.9,2687.0Q559.9,2692.1 560.6,2687.0L561.3,2683.8Q562.2,2680.4 562.3,2676.9L565.2,2626.2Q565.4,2622.7 565.5,2619.2L567.9,2563.0Q567.9,2559.5 568.7,2556.1L572.5,2537.4Q573.0,2533.8 574.5,2531.2L574.5,2531.2Q576.0,2526.9 576.6,2531.9L576.8,2532.8Q577.7,2536.2 577.8,2539.7L581.9,2623.7Q582.0,2627.2 582.3,2630.6L584.4,2654.7Q584.5,2659.6 585.6,2656.0L585.6,2656.0Q586.6,2654.1 586.6,2650.3L589.0,2604.0Q589.2,2600.5 589.2,2597.0L591.9,2493.1Q592.0,2489.6 592.1,2486.1L594.2,2382.2Q594.2,2378.7 594.4,2375.2L595.1,2362.9Q595.3,2357.7 595.7,2362.9L596.8,2375.2Q597.1,2378.7 597.3,2382.2L606.4,2535.1" stroke="#40516f" stroke-width="5.2" stroke-linecap="round" stroke-linejoin="round" fill="none"/>
<path d="M631.9,2599.4L634.0,2641.4Q634.1,2644.9 634.5,2648.4L636.7,2674.7Q636.9,2679.5 637.9,2676.5L637.9,2676.5Q639.0,2675.3 639.1,2671.4L641.2,2648.4Q641.5,2644.9 641.7,2641.4L644.4,2597.4Q644.4,2593.7 645.5,2591.1L645.5,2591.1Q646.4,2586.8 647.1,2591.7L647.4,2592.7Q648.2,2596.1 648.6,2599.6L652.1,2625.9Q652.4,2629.8 653.6,2631.3L653.6,2631.3Q654.6,2634.5 655.3,2629.7L656.1,2626.1Q656.9,2622.7 657.1,2619.2L660.5,2581.8Q660.8,2578.4 661.0,2574.9L664.9,2524.2Q665.1,2520.5 666.0,2517.9L666.0,2517.9Q666.9,2513.6 667.0,2518.6L667.8,2530.5Q668.1,2534.0 668.2,2537.5L669.1,2592.6Q669.1,2596.4 669.8,2598.3L669.8,2598.3Q670.2,2601.9 671.4,2597.2L671.4,2597.2Q672.7,2593.9 673.1,2590.4L683.5,2526.4Q683.9,2522.9 685.3,2519.6L687.7,2513.5Q689.0,2508.6 690.1,2513.6L690.7,2515.2Q692.0,2518.4 692.2,2521.9L695.9,2552.7Q696.3,2556.2 696.6,2559.7L704.8,2650.3Q705.0,2653.8 705.8,2657.2L708.4,2670.3Q709.0,2675.4 710.2,2670.4L710.2,2670.4Q711.6,2667.1 711.5,2663.6L713.2,2619.6Q713.2,2615.7 714.2,2613.8L714.2,2613.8Q715.2,2610.2 715.8,2615.1L716.7,2619.3Q717.4,2622.7 717.7,2626.2L720.3,2648.1Q720.6,2652.3 721.4,2652.1L721.4,2652.1Q722.4,2653.7 722.4,2649.2L724.9,2604.0Q725.0,2600.5 725.8,2597.1L727.7,2588.4Q728.5,2585.0 728.8,2581.5L736.9,2510.9Q737.3,2507.4 737.7,2503.9L743.5,2455.4Q743.8,2451.9 745.1,2448.6L745.1,2448.6Q746.4,2443.6 746.5,2448.8L747.0,2455.1Q747.3,2458.6 747.3,2462.1L748.4,2574.9Q748.3,2578.7 748.9,2580.6L748.9,2580.6Q749.1,2583.9 751.7,2580.6L751.7,2580.6Q754.1,2578.6 755.4,2575.2L756.5,2572.7Q758.3,2569.6 758.0,2566.0L760.5,2488.7Q760.5,2485.2 761.1,2481.7L761.2,2480.9Q761.7,2475.7 762.1,2480.9L762.8,2486.2Q763.3,2489.6 763.3,2493.1L766.5,2614.8Q766.4,2618.7 767.5,2619.9L767.5,2619.9Q767.7,2621.9 771.8,2622.1L772.2,2622.2Q776.4,2622.0 776.3,2626.2L778.9,2641.4Q779.4,2645.5 780.3,2646.0L780.3,2646.0Q781.3,2648.3 781.8,2643.7L782.2,2641.7Q782.9,2638.3 782.9,2634.7L784.2,2579.6Q784.2,2575.5 784.9,2575.4L784.9,2575.4Q785.5,2573.5 785.9,2578.1L786.7,2583.8Q787.3,2587.2 787.5,2590.7L793.6,2679.1Q793.8,2682.6 794.4,2686.1L795.5,2693.6Q795.9,2698.3 797.2,2695.4L797.2,2695.4Q798.4,2694.1 799.0,2690.3L800.3,2683.8Q800.9,2679.8 802.1,2679.3L802.1,2679.3Q803.1,2677.2 804.6,2680.9L804.6,2680.9Q806.2,2683.6 807.0,2687.1L818.4,2728.0Q819.3,2731.4 820.5,2734.7L820.5,2734.7Q821.6,2739.7 822.5,2734.7L822.5,2734.7Q823.5,2731.4 823.6,2727.9L826.4,2688.3Q826.6,2684.8 826.9,2681.3L828.6,2659.5Q828.7,2656.0 829.9,2652.6L830.0,2652.2Q830.9,2648.3 832.8,2648.0L832.8,2648.0Q834.3,2646.7 836.6,2647.9L836.6,2647.9Q838.7,2648.3 841.6,2650.8L845.0,2653.4Q848.0,2655.9 849.4,2656.3L849.4,2656.3Q851.4,2658.2 851.5,2653.6L852.2,2648.4Q852.7,2644.9 852.8,2641.4L855.3,2592.9Q855.5,2589.4 855.8,2586.0L858.5,2555.2Q858.7,2551.7 859.6,2548.3L860.7,2544.1Q861.5,2539.0 862.4,2544.0L862.4,2544.0Q863.4,2547.3 863.5,2550.8L864.8,2574.9Q865.0,2578.4 865.1,2581.9L866.9,2637.0Q867.0,2640.5 867.4,2643.9L868.5,2654.7Q868.7,2659.9 869.5,2654.8L869.9,2652.8Q870.7,2649.3 870.8,2645.8L875.2,2586.3Q875.4,2582.8 875.7,2579.3L879.6,2533.0Q879.8,2529.5 880.6,2526.1L881.0,2524.1Q881.7,2519.0 882.3,2524.1L882.6,2526.1Q883.3,2529.5 883.3,2533.1L885.8,2619.2Q885.8,2622.7 886.1,2626.2L887.7,2651.4Q887.8,2656.6 888.5,2651.4L889.0,2648.3Q889.8,2644.9 889.8,2641.4L893.1,2537.5Q893.2,2534.0 893.3,2530.5L896.4,2413.3Q896.4,2409.8 897.1,2406.3L897.1,2406.1Q897.5,2401.0 898.9,2406.0L899.1,2406.5Q900.4,2409.7 901.0,2413.2L904.7,2433.0Q905.4,2436.4 905.9,2439.9L906.7,2446.2Q907.3,2449.7 907.3,2453.2L910.8,2541.6Q910.9,2545.1 911.2,2548.6L914.1,2597.0Q914.2,2600.6 914.8,2603.6L914.8,2603.6Q915.2,2608.4 916.5,2603.4L917.1,2601.6Q918.4,2598.4 918.9,2594.9L920.3,2586.2Q920.8,2582.2 922.0,2581.7L922.0,2581.7Q923.4,2579.4 923.2,2584.1L924.2,2645.8Q924.0,2649.9 925.4,2650.7L925.4,2650.7Q926.2,2652.7 928.7,2650.7L928.7,2650.7Q930.9,2649.7 933.1,2646.6L933.2,2646.5Q935.7,2642.4 936.1,2646.6L936.1,2646.6Q937.1,2649.2 937.0,2652.8L938.5,2690.2Q938.6,2694.2 939.2,2695.4L939.2,2695.4Q939.8,2698.3 940.3,2693.6L941.0,2688.3Q941.7,2684.8 941.7,2681.3L944.8,2581.9Q944.8,2578.3 945.3,2574.9L945.6,2571.9Q946.0,2566.6 946.5,2571.8L947.0,2574.9Q947.6,2578.3 947.8,2581.8L950.2,2613.7Q950.2,2617.9 951.8,2617.7L951.8,2617.7Q952.6,2618.5 956.6,2617.8L958.5,2617.6Q962.8,2616.2 962.1,2620.7L963.0,2652.5Q963.0,2656.4 963.6,2658.0L963.6,2658.0Q964.2,2661.3 964.8,2656.5L965.4,2652.8Q966.1,2649.3 966.1,2645.8L969.6,2559.7Q969.7,2556.2 969.8,2552.7L971.8,2497.6Q971.8,2493.9 972.7,2491.3L972.7,2491.3Q973.5,2487.0 974.1,2492.0L974.7,2495.1Q975.3,2498.5 975.6,2502.0L982.7,2570.4Q982.9,2574.1 983.9,2576.7L983.9,2576.7Q984.9,2581.0 985.5,2576.0L986.1,2572.9Q986.9,2569.5 987.0,2566.0L991.7,2493.1Q991.9,2489.6 992.3,2486.2L994.1,2470.9Q994.5,2466.7 995.1,2467.1L995.1,2467.1Q995.7,2465.8 995.9,2470.3L997.2,2486.1Q997.5,2489.6 997.5,2493.1L999.6,2621.4Q999.5,2624.9 1000.3,2628.4L1003.5,2645.9Q1004.0,2649.4 1005.3,2652.6L1005.8,2653.8Q1007.1,2658.3 1007.8,2655.4L1007.8,2655.4Q1008.7,2654.2 1008.8,2650.3L1010.0,2635.1Q1010.2,2631.6 1011.2,2628.2L1011.7,2626.1Q1012.5,2621.3 1013.6,2624.9L1013.6,2624.9Q1015.0,2626.8 1014.9,2630.7L1016.2,2663.6Q1016.2,2667.1 1016.9,2670.5L1018.0,2677.4Q1018.3,2682.5 1020.0,2677.7L1020.4,2676.9Q1022.0,2673.8 1022.8,2670.4L1026.5,2657.1Q1027.4,2653.8 1028.1,2650.3L1037.8,2604.0Q1038.4,2600.2 1039.6,2598.3L1039.6,2598.3Q1040.4,2595.3 1042.9,2597.2L1042.9,2597.2Q1045.3,2598.0 1046.6,2600.5L1046.6,2600.5Q1048.3,2602.4 1048.3,2606.2L1050.9,2639.2Q1050.9,2642.7 1052.3,2646.0L1056.2,2656.7Q1057.3,2660.5 1058.7,2661.1L1058.7,2661.1Q1060.1,2663.3 1061.1,2659.1L1061.1,2659.1Q1062.4,2656.1 1062.5,2652.5L1063.7,2635.1Q1063.9,2631.1 1064.5,2629.9L1064.5,2629.9Q1065.0,2627.0 1066.2,2631.6L1067.3,2634.9Q1068.5,2638.2 1069.1,2641.7L1073.3,2663.6Q1074.1,2667.1 1074.1,2670.6L1075.4,2730.1Q1075.5,2733.6 1075.8,2737.1L1075.9,2739.0Q1076.0,2744.2 1077.3,2739.2L1077.3,2739.2Q1078.6,2735.9 1078.9,2732.4L1081.3,2714.9Q1081.8,2711.4 1081.9,2707.9L1083.8,2659.5Q1084.0,2656.0 1084.1,2652.5L1086.7,2592.9Q1086.9,2589.4 1086.9,2585.9L1087.7,2404.4Q1087.7,2400.9 1088.0,2397.4L1091.4,2360.0Q1091.7,2356.5 1092.1,2353.1L1095.8,2315.7Q1096.1,2312.2 1096.7,2308.7L1097.1,2306.1Q1097.7,2300.9 1098.3,2306.1L1098.8,2308.7Q1099.5,2312.2 1099.9,2315.7L1109.1,2397.4Q1109.5,2400.9 1109.5,2404.4L1112.7,2552.7Q1112.8,2556.2 1112.9,2559.7L1114.9,2614.8Q1114.9,2618.7 1115.6,2620.2L1115.6,2620.2Q1116.1,2623.4 1116.6,2618.6L1117.2,2615.1Q1117.8,2611.6 1117.8,2608.1L1121.6,2470.9Q1121.6,2467.4 1122.1,2464.0L1123.5,2452.1Q1123.9,2446.9 1124.3,2452.1L1125.7,2464.0Q1126.1,2467.4 1126.4,2470.9L1138.0,2610.4Q1138.2,2613.9 1139.0,2617.3L1139.8,2621.1Q1140.5,2626.2 1141.2,2621.1L1141.6,2619.5Q1142.4,2616.1 1142.5,2612.6L1143.2,2601.8Q1143.2,2597.7 1144.5,2597.2L1144.5,2597.2Q1145.8,2596.7 1145.9,2592.6L1146.9,2577.0Q1147.0,2572.3 1147.9,2574.8L1147.9,2574.8Q1148.8,2575.6 1149.1,2579.6L1151.3,2601.5Q1151.5,2605.5 1152.4,2606.4L1152.4,2606.4Q1153.1,2609.1 1154.0,2604.5L1154.1,2603.9Q1155.1,2600.6 1155.2,2597.0L1160.9,2528.6Q1161.1,2524.9 1161.8,2522.3L1161.8,2522.3Q1162.6,2518.0 1162.7,2523.1L1163.1,2530.5Q1163.4,2534.0 1163.4,2537.5L1164.9,2650.3Q1164.7,2654.2 1165.7,2655.4L1165.7,2655.4Q1166.2,2657.9 1168.5,2655.4L1168.5,2655.4Q1170.5,2654.1 1172.2,2650.7L1173.8,2647.9Q1176.0,2645.0 1175.6,2641.4L1176.0,2515.3Q1176.0,2511.8 1176.0,2508.3L1177.0,2452.1Q1176.7,2447.9 1178.5,2447.8L1178.5,2447.8Q1179.5,2446.7 1183.4,2447.6L1185.4,2448.0Q1188.9,2448.4 1192.1,2449.9L1192.2,2450.0Q1196.0,2451.3 1196.8,2452.4L1196.8,2452.4Q1198.5,2452.9 1198.2,2457.0L1198.2,2508.3Q1198.1,2511.8 1198.2,2515.3L1198.8,2579.3Q1198.7,2582.8 1199.4,2586.1L1199.4,2586.1Q1199.7,2591.1 1201.2,2586.2L1201.3,2586.0Q1202.8,2582.8 1203.2,2579.3L1211.5,2533.0Q1212.1,2529.3 1212.8,2527.1L1212.8,2527.1Q1213.5,2523.2 1213.8,2528.2L1214.5,2534.9Q1214.9,2538.4 1214.9,2541.9L1217.1,2637.0Q1216.7,2640.7 1219.5,2643.1L1221.0,2644.9Q1223.2,2647.8 1225.4,2649.3L1225.4,2649.3Q1227.9,2652.3 1228.8,2648.0L1228.8,2648.0Q1229.8,2644.9 1231.2,2641.6L1235.7,2630.4Q1237.0,2626.7 1238.2,2625.7L1238.2,2625.7Q1239.4,2623.4 1240.5,2626.3L1240.5,2626.3Q1241.5,2628.0 1243.1,2631.4L1247.3,2640.6Q1248.8,2644.3 1250.1,2644.9L1250.1,2644.9Q1251.4,2646.7 1252.8,2644.3L1252.8,2644.3Q1254.3,2643.1 1255.7,2639.5L1262.4,2623.7Q1264.1,2620.6 1263.9,2617.0L1264.9,2559.7Q1264.9,2556.2 1265.0,2552.7L1265.7,2509.8Q1265.4,2506.2 1267.4,2503.1L1270.4,2497.2Q1271.9,2493.8 1273.9,2492.1L1273.9,2492.1Q1276.1,2488.7 1276.5,2493.5L1276.8,2495.1Q1277.7,2498.5 1277.7,2502.0L1281.2,2608.1Q1281.3,2611.6 1281.6,2615.1L1282.9,2634.8Q1283.0,2638.6 1283.9,2640.2L1283.9,2640.2Q1284.6,2643.5 1285.5,2639.1L1285.5,2639.1Q1286.6,2636.1 1286.8,2632.5L1290.0,2604.0Q1290.3,2599.9 1291.3,2599.8L1291.3,2599.8Q1292.3,2597.9 1292.7,2602.4L1293.7,2608.2Q1294.3,2611.6 1294.3,2615.1L1296.3,2681.3Q1296.4,2684.9 1296.7,2688.2L1296.7,2688.2Q1297.0,2693.2 1297.7,2688.0L1298.0,2686.1Q1298.7,2682.6 1299.0,2679.1L1306.0,2608.5Q1306.2,2604.9 1307.7,2601.7L1307.8,2601.6Q1309.2,2596.7 1309.9,2601.6L1309.9,2601.6Q1310.9,2604.9 1311.3,2608.4L1313.7,2624.8Q1314.1,2628.9 1314.9,2629.4L1314.9,2629.4Q1315.6,2631.5 1316.8,2627.7L1316.8,2627.7Q1318.1,2625.1 1318.3,2621.5L1320.4,2604.0Q1320.9,2600.5 1321.0,2597.0L1324.0,2537.5Q1324.1,2534.0 1324.5,2530.5L1325.3,2521.9Q1325.7,2516.7 1326.1,2521.9L1327.1,2530.5Q1327.5,2534.0 1327.6,2537.5L1332.2,2671.3Q1331.7,2675.2 1335.1,2677.0L1338.0,2679.3Q1341.3,2682.2 1341.6,2680.9L1341.6,2680.9Q1342.5,2681.1 1342.4,2676.9L1344.0,2604.0Q1344.1,2600.5 1344.2,2597.0L1347.3,2493.1Q1347.4,2489.6 1347.7,2486.1L1348.9,2470.9Q1349.1,2467.0 1350.0,2465.6L1350.0,2465.6Q1350.8,2462.3 1351.3,2467.1L1352.5,2475.1Q1353.1,2478.5 1353.1,2482.0L1355.1,2530.5Q1355.2,2534.0 1355.2,2537.5L1356.3,2614.8Q1356.1,2618.3 1357.1,2621.6L1357.1,2621.6Q1357.8,2626.6 1358.7,2621.6L1358.7,2621.6Q1359.8,2618.3 1359.7,2614.8L1360.2,2598.5Q1359.8,2594.8 1362.3,2592.1L1364.3,2589.0Q1366.2,2586.0 1368.7,2583.6L1373.4,2578.8" stroke="#40516f" stroke-width="5.2" stroke-linecap="round" stroke-linejoin="round" fill="none"/>
<path d="M1420.6,2690.4L1423.6,2659.5Q1424.0,2656.0 1424.2,2652.5L1427.5,2599.6Q1427.7,2596.1 1428.0,2592.6L1431.4,2550.8Q1431.6,2547.3 1432.5,2543.9L1433.6,2539.6Q1434.2,2534.6 1435.8,2539.4L1436.9,2541.9Q1438.5,2545.0 1439.2,2548.5L1444.2,2570.5Q1445.1,2573.9 1445.5,2577.4L1447.9,2593.7Q1448.5,2597.2 1448.4,2600.7L1450.0,2663.6Q1449.7,2667.2 1451.8,2670.2L1456.7,2679.5Q1458.7,2682.5 1458.4,2686.1L1459.3,2719.0Q1459.3,2722.9 1460.2,2724.5L1460.2,2724.5Q1460.8,2727.8 1462.4,2723.4L1462.4,2723.4Q1464.0,2720.4 1464.8,2716.9L1467.0,2708.2Q1467.9,2704.1 1468.7,2704.2L1468.7,2704.2Q1469.4,2702.8 1470.3,2706.5L1470.3,2706.5Q1471.3,2709.0 1471.6,2712.7L1474.6,2736.8Q1474.7,2740.6 1476.6,2742.3L1476.6,2742.3Q1477.9,2744.4 1481.5,2745.6L1481.7,2745.6Q1485.6,2748.1 1485.7,2743.6L1485.7,2743.6Q1486.7,2740.3 1486.6,2736.8L1488.6,2668.4Q1488.5,2664.4 1489.6,2663.2L1489.6,2663.2Q1489.9,2660.8 1493.8,2662.6L1493.8,2662.6Q1497.4,2663.6 1499.4,2665.4L1499.4,2665.4Q1502.1,2666.6 1501.8,2670.6L1505.4,2727.9Q1505.5,2731.4 1506.1,2734.9L1507.3,2743.5Q1507.7,2747.7 1508.6,2747.5L1508.6,2747.5Q1509.4,2749.0 1510.0,2744.6L1510.2,2743.7Q1511.0,2740.3 1511.1,2736.8L1512.1,2714.9Q1512.1,2711.4 1512.9,2708.0L1514.2,2701.6Q1514.6,2698.0 1516.9,2695.3L1517.5,2694.4Q1519.7,2691.6 1520.8,2688.2L1520.9,2688.1Q1522.5,2684.9 1522.3,2681.3L1523.2,2650.6Q1522.8,2646.9 1525.5,2644.4L1526.6,2643.2Q1528.8,2640.2 1531.1,2638.8L1531.1,2638.8Q1533.6,2635.9 1534.1,2640.5L1534.3,2641.5Q1535.2,2644.9 1535.3,2648.4L1538.6,2692.4Q1538.7,2695.9 1539.7,2699.3L1542.4,2710.3Q1543.1,2713.7 1544.7,2716.8L1544.7,2716.8Q1546.3,2721.5 1546.8,2716.4L1547.1,2714.9Q1547.8,2711.5 1547.9,2707.9L1549.7,2670.6Q1549.9,2667.1 1550.0,2663.6L1551.3,2626.2Q1551.3,2622.6 1552.3,2619.7L1552.3,2619.7Q1553.2,2615.2 1554.3,2619.7L1554.3,2619.7Q1555.5,2622.6 1556.2,2626.1L1557.4,2631.5Q1558.1,2635.6 1558.8,2635.5L1558.8,2635.5Q1559.4,2637.0 1560.2,2632.7L1560.2,2632.7Q1561.2,2629.4 1561.1,2625.9L1562.0,2604.0Q1561.8,2600.5 1563.3,2597.3L1564.2,2594.9Q1565.4,2591.6 1566.9,2588.5L1572.8,2576.0Q1574.6,2572.9 1574.8,2569.3L1576.1,2559.6Q1576.6,2556.2 1576.7,2552.7L1580.7,2486.5Q1580.9,2483.0 1581.4,2479.5L1586.1,2437.7Q1586.4,2434.2 1587.3,2430.8L1590.2,2417.6Q1590.7,2414.1 1592.6,2411.2L1594.8,2407.3Q1596.6,2403.6 1597.9,2403.7L1597.9,2403.7Q1599.5,2402.4 1600.1,2405.3L1600.1,2405.3Q1601.1,2407.2 1601.1,2411.1L1601.8,2424.0Q1601.7,2427.6 1603.6,2430.7L1603.8,2431.0Q1605.2,2434.2 1607.4,2437.0L1611.1,2442.4Q1613.3,2445.3 1614.2,2448.0L1614.2,2448.0Q1615.6,2450.6 1615.5,2454.3L1618.5,2530.5Q1618.7,2534.0 1618.8,2537.5L1621.4,2603.7Q1621.4,2607.8 1622.3,2608.3L1622.3,2608.3Q1622.7,2610.2 1625.3,2607.2L1625.3,2607.2Q1627.6,2605.2 1629.3,2602.0L1632.4,2596.9Q1634.6,2594.0 1634.5,2590.4L1635.4,2581.8Q1635.8,2578.4 1635.9,2574.9L1639.6,2470.9Q1639.7,2467.4 1639.9,2464.0L1644.1,2349.0Q1644.1,2345.4 1644.5,2342.0L1645.4,2332.3Q1645.7,2327.1 1646.0,2332.3L1646.8,2342.0Q1647.1,2345.5 1647.1,2349.0L1650.1,2594.8Q1650.0,2598.6 1650.7,2600.8L1650.7,2600.8Q1651.3,2604.7 1651.7,2599.7L1652.6,2592.9Q1653.1,2589.5 1653.2,2585.9L1660.7,2382.2Q1660.7,2378.7 1661.3,2375.3L1661.9,2371.5Q1662.4,2366.3 1662.7,2371.6L1663.4,2379.7Q1663.8,2383.2 1663.8,2386.7L1666.7,2552.7Q1666.7,2556.2 1667.3,2559.6L1672.5,2592.6Q1672.9,2596.3 1674.1,2598.9L1674.1,2598.9Q1675.2,2602.9 1676.3,2599.4L1676.3,2599.4Q1677.5,2597.5 1678.4,2593.8L1687.6,2559.6Q1688.5,2556.2 1689.6,2552.8L1693.0,2541.8Q1694.3,2538.5 1694.4,2534.9L1698.2,2493.1Q1698.6,2489.6 1698.7,2486.1L1702.1,2426.6Q1702.1,2423.1 1703.1,2419.7L1703.2,2419.2Q1704.1,2414.1 1704.9,2419.2L1705.5,2421.9Q1706.4,2425.3 1706.7,2428.8L1713.6,2481.7Q1713.9,2485.5 1715.2,2487.4L1715.2,2487.4Q1715.9,2489.8 1719.0,2491.3L1719.0,2491.3Q1722.3,2493.0 1722.6,2494.6L1722.6,2494.6Q1723.5,2495.8 1723.4,2499.8L1725.1,2597.0Q1725.1,2600.5 1725.2,2604.0L1726.2,2637.0Q1726.0,2641.5 1727.4,2639.9L1727.4,2639.9Q1728.3,2640.0 1730.2,2636.3L1739.0,2620.2Q1740.7,2616.8 1742.3,2615.7L1742.3,2615.7Q1744.2,2613.1 1744.7,2617.7L1745.0,2619.3Q1745.9,2622.7 1746.1,2626.2L1749.2,2654.7Q1749.4,2658.3 1750.4,2661.3L1750.4,2661.3Q1751.3,2666.0 1752.2,2661.0L1752.6,2659.4Q1753.7,2656.0 1753.9,2652.5L1755.9,2630.6Q1756.1,2626.6 1757.0,2626.0L1757.0,2626.0Q1757.2,2624.6 1760.9,2625.3L1760.9,2625.3Q1764.5,2626.3 1764.8,2623.0L1764.8,2623.0Q1765.9,2620.7 1766.1,2617.0L1772.4,2559.7Q1772.8,2556.2 1773.3,2552.7L1779.0,2515.3Q1779.3,2511.4 1780.6,2509.9L1780.6,2509.9Q1781.8,2506.7 1782.4,2511.5L1782.7,2512.8Q1783.6,2516.2 1783.6,2519.7L1786.6,2579.3Q1786.7,2583.2 1787.4,2584.5L1787.4,2584.5Q1787.9,2587.4 1788.6,2582.7L1788.8,2581.8Q1789.6,2578.4 1789.7,2574.9L1794.8,2493.1Q1795.0,2489.6 1795.2,2486.1L1798.8,2417.7Q1798.9,2414.0 1799.6,2411.7L1799.6,2411.7Q1800.2,2407.6 1800.5,2412.6L1801.3,2419.6Q1801.7,2423.1 1801.9,2426.6L1803.2,2451.8Q1803.3,2455.4 1804.2,2458.0L1804.2,2458.0Q1804.9,2460.7 1806.3,2464.0L1808.1,2468.6Q1809.5,2471.8 1810.3,2475.3L1811.9,2481.8Q1812.9,2485.2 1812.9,2488.7L1813.3,2497.2Q1813.5,2500.7 1813.4,2504.2L1813.8,2552.7Q1813.8,2556.2 1814.1,2559.7L1815.2,2579.3Q1815.3,2582.8 1816.1,2586.2L1820.9,2610.4Q1821.7,2614.6 1822.2,2614.1L1822.2,2614.1Q1822.8,2615.2 1823.1,2610.8L1823.9,2604.0Q1824.4,2600.5 1824.4,2597.0L1826.4,2533.1Q1826.4,2529.2 1827.2,2527.3L1827.2,2527.3Q1827.9,2523.7 1828.3,2528.6L1828.5,2530.5Q1829.0,2534.0 1829.0,2537.5L1830.9,2674.7Q1830.9,2678.2 1831.3,2681.6L1831.4,2682.5Q1831.8,2687.7 1832.4,2682.5L1832.8,2679.4Q1833.5,2676.0 1833.5,2672.5L1835.9,2592.9Q1836.0,2589.4 1836.3,2586.0L1837.3,2573.4Q1837.4,2568.8 1838.5,2570.8L1838.5,2570.8Q1839.4,2571.1 1840.3,2575.1L1842.8,2583.9Q1843.9,2587.2 1844.5,2590.6L1846.0,2597.1Q1846.8,2600.5 1847.0,2604.0L1847.2,2605.9Q1847.7,2609.4 1847.6,2612.9L1848.9,2685.8Q1848.9,2689.3 1849.0,2692.8L1849.9,2714.6Q1850.1,2718.3 1850.0,2720.7L1850.0,2720.7Q1849.6,2723.2 1851.3,2726.6L1860.2,2749.5Q1861.6,2753.2 1862.3,2754.4L1862.3,2754.4Q1863.1,2757.3 1863.7,2752.6L1864.1,2750.7Q1864.9,2747.3 1864.9,2743.8L1867.2,2694.2Q1867.3,2690.1 1867.9,2689.6L1867.9,2689.6Q1868.2,2687.6 1870.1,2691.2L1870.1,2691.2Q1871.8,2694.3 1873.2,2695.4L1873.2,2695.4Q1874.8,2698.0 1874.9,2693.3L1875.7,2685.5Q1876.2,2682.0 1876.2,2678.5L1878.2,2576.6Q1878.3,2573.1 1878.4,2569.6L1879.6,2543.9Q1879.8,2538.7 1880.1,2543.9L1881.3,2558.7Q1881.6,2562.2 1881.8,2565.7L1890.0,2700.3Q1890.2,2703.8 1890.6,2707.2L1891.4,2714.4Q1891.6,2719.6 1893.0,2714.6L1893.4,2713.6Q1894.8,2710.3 1895.2,2706.9L1900.5,2677.6" stroke="#40516f" stroke-width="5.2" stroke-linecap="round" stroke-linejoin="round" fill="none"/>
<path d="M513.75,2303.25H484.25V2893.80H1901.57V2864.27M484.25,2421.36h29.53M484.25,2539.47h29.53M484.25,2657.58h29.53M484.25,2775.69h29.53M661.42,2893.80v-29.53M838.58,2893.80v-29.53M1015.75,2893.80v-29.53M1192.91,2893.80v-29.53M1370.08,2893.80v-29.53M1547.24,2893.80v-29.53M1724.41,2893.80v-29.53" stroke="#000" stroke-width="8.0" stroke-linecap="butt" stroke-linejoin="miter" fill="none"/>
<text class="t10" text-anchor="end" transform="translate(466.54,2315.75) scale(1,1.038)">160</text>
<text class="t10" text-anchor="end" transform="translate(466.54,2433.86) scale(1,1.038)">140</text>
<text class="t10" text-anchor="end" transform="translate(466.54,2551.97) scale(1,1.038)">120</text>
<text class="t10" text-anchor="end" transform="translate(466.54,2670.08) scale(1,1.038)">100</text>
<text class="t10" text-anchor="end" transform="translate(466.54,2788.19) scale(1,1.038)">80</text>
<text class="t10" text-anchor="end" transform="translate(466.54,2906.30) scale(1,1.038)">60</text>
<text class="t10" text-anchor="middle" transform="translate(484.25,2941.50) scale(1,1.038)">131:30</text>
<text class="t10" text-anchor="middle" transform="translate(661.42,2941.50) scale(1,1.038)">132:00</text>
<text class="t10" text-anchor="middle" transform="translate(838.58,2941.50) scale(1,1.038)">132:30</text>
<text class="t10" text-anchor="middle" transform="translate(1015.75,2941.50) scale(1,1.038)">133:00</text>
<text class="t10" text-anchor="middle" transform="translate(1192.91,2941.50) scale(1,1.038)">133:30</text>
<text class="t10" text-anchor="middle" transform="translate(1370.08,2941.50) scale(1,1.038)">134:00</text>
<text class="t10" text-anchor="middle" transform="translate(1547.24,2941.50) scale(1,1.038)">134:30</text>
<text class="t10" text-anchor="middle" transform="translate(1724.41,2941.50) scale(1,1.038)">135:00</text>
<text class="t10" text-anchor="middle" transform="translate(1901.57,2941.50) scale(1,1.038)">135:30</text>
<text class="t10" text-anchor="middle" transform="translate(354.90,2598.53) rotate(-90) scale(1,1.015)">Herzfrequenz (bpm)</text>
<text class="t10" text-anchor="middle" transform="translate(1192.91,3024.40) scale(1,1.015)">Zeit (hr:min)</text>
<text class="t10" text-anchor="middle" transform="translate(1192.91,3095.20) scale(1,1.015)">(b) Landemodulpilot</text>
<rect x="484.2" y="1960.7" width="66.0" height="29.5" fill="#58334b"/>
<text class="t8" transform="translate(562.20,1987.24) scale(1,1.015)">Kommandant beim Aussteigen unterstützen</text>
<rect x="550.2" y="2002.1" width="47.4" height="29.5" fill="#58334b"/>
<text class="t8" transform="translate(609.60,2028.58) scale(1,1.015)">Aussteigen</text>
<rect x="597.6" y="2043.4" width="75.5" height="29.5" fill="#58334b"/>
<text class="t8" transform="translate(685.10,2069.92) scale(1,1.015)">Vorbereiten auf Exkursion</text>
<rect x="673.1" y="2084.7" width="543.0" height="29.5" fill="#58334b"/>
<text class="t8" transform="translate(1228.10,2111.26) scale(1,1.015)">Inspektion von Surveyor 3</text>
<rect x="1216.1" y="2126.1" width="162.1" height="29.5" fill="#58334b"/>
<text class="t8" transform="translate(1390.20,2152.60) scale(1,1.015)">Surveyor inspection</text>
<rect x="1378.2" y="2167.4" width="357.8" height="29.5" fill="#58334b"/>
<text class="t8" text-anchor="end" transform="translate(1367.00,2193.94) scale(1,1.015)">Rückweg</text>
<rect x="1736.0" y="2208.8" width="165.4" height="29.5" fill="#58334b"/>
<text class="t8" text-anchor="end" transform="translate(1724.80,2235.28) scale(1,1.015)">Ausrüstung und Sonden-Teile in die Kabine bringen</text>
<path d="M1884.45,2251.35h33.60L1901.25,2278.55Z" fill="#58334b" stroke="#58334b" stroke-width="3" stroke-linejoin="round"/>
<text class="t8" text-anchor="end" transform="translate(1871.75,2276.61) scale(1,1.015)">Einsteigen</text>
</g>
<text class="t12" text-anchor="middle" transform="translate(1193.10,3219.30) scale(1,1.015)">Figure 10-2. - Herzfrequenzen während des zweiten Außenbordeinsatzes.</text>
</svg></body></html>
